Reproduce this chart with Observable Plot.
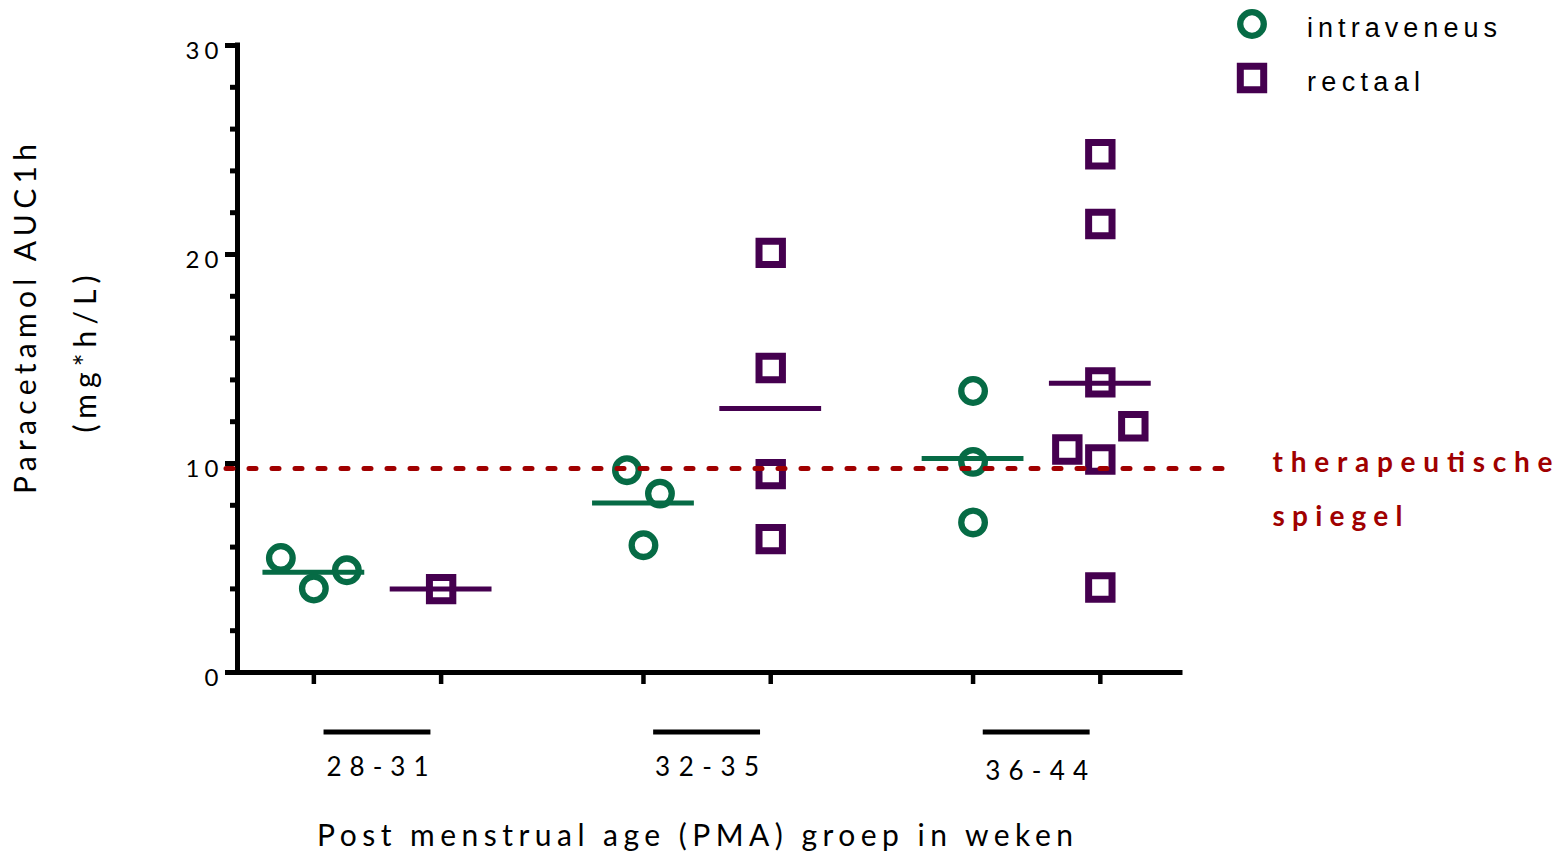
<!DOCTYPE html>
<html>
<head>
<meta charset="utf-8">
<script src="https://cdn.jsdelivr.net/npm/d3@7"></script>
<script src="https://cdn.jsdelivr.net/npm/@observablehq/plot@0.6"></script>
<style>
html, body { margin: 0; padding: 0; background: #fff; }
#wrap { position: relative; width: 1564px; height: 856px; overflow: hidden; }
</style>
</head>
<body>
<div id="wrap"></div>
<script>
// ---------- data ----------
const groups = ["28-31", "32-35", "36-44"];
const routes = ["intraveneus", "rectaal"];
const routeColors = ["#066b45", "#45004f"];
const routeSymbols = ["circle", "square"];

// Paracetamol AUC1h (mg*h/L) per PMA group
const iv_28_31 = [4.02, 5.48, 4.89];
const iv_32_35 = [8.56, 9.68, 6.09];
const iv_36_44 = [13.47, 10.08, 7.18];
const rect_28_31 = [3.99];
const rect_32_35 = [20.08, 14.57, 9.49, 6.38];
const rect_36_44 = [10.19, 10.67, 11.78, 13.88, 24.80, 21.46, 4.07];

const threshold = 9.76;
const thresholdLabel = ["therapeutische", "spiegel"];
const yTicksMajor = [0, 10, 20, 30];
const yTicksMinor = [2, 4, 6, 8, 12, 14, 16, 18, 22, 24, 26, 28];
const yLabel = ["Paracetamol AUC1h", "(mg*h/L)"];
const xLabel = "Post menstrual age (PMA) groep in weken";

// ---------- layout ----------
const W = 1564, H = 856;
const ML = 237, MR = 384, MT = 45, MB = 184;
const GROUP_STEP = 2.59, ROUTE_STEP = 1, HALF_MEAN = 0.4, HALF_BAR = 0.42;
const xDomain = [-0.6, (groups.length - 1) * GROUP_STEP + ROUTE_STEP + 0.63];
const yDomain = [0, 30];
const kx = (W - ML - MR) / (xDomain[1] - xDomain[0]);
const ky = (H - MT - MB) / (yDomain[1] - yDomain[0]);
const DODGE_PX = 33, COLLIDE_PX = 36;

const series = {
  intraveneus: [iv_28_31, iv_32_35, iv_36_44],
  rectaal: [rect_28_31, rect_32_35, rect_36_44]
};

// simple column-scatter dodge (like GraphPad)
function dodge(vals) {
  const hU = COLLIDE_PX / ky;
  const ks = [];
  vals.forEach((v, i) => {
    for (const k of [0, -1, 1, -2, 2, -3, 3]) {
      if (!vals.slice(0, i).some((u, j) => ks[j] === k && Math.abs(u - v) < hU)) { ks.push(k); break; }
    }
  });
  const order = d3.range(vals.length).sort((a, b) => vals[a] - vals[b]);
  const out = ks.slice();
  let cl = [order[0]];
  const flush = () => { const m = d3.mean(cl, i => ks[i]); cl.forEach(i => out[i] = ks[i] - m); };
  for (let t = 1; t < order.length; t++) {
    if (vals[order[t]] - vals[order[t - 1]] < hU) cl.push(order[t]);
    else { flush(); cl = [order[t]]; }
  }
  flush();
  return out;
}

const points = [], means = [], cols = [];
routes.forEach((route, ri) => groups.forEach((g, gi) => {
  const vals = series[route][gi];
  const base = gi * GROUP_STEP + ri * ROUTE_STEP;
  const offs = dodge(vals);
  vals.forEach((v, i) => points.push({route, group: g, value: v, x: base + offs[i] * DODGE_PX / kx}));
  means.push({route, group: g, x: base, value: d3.mean(vals)});
  cols.push(base);
}));
const groupCenters = groups.map((g, gi) => ({label: g, x: gi * GROUP_STEP + ROUTE_STEP / 2}));

const dotMarks = [], meanMarks = [];
routes.forEach((route, ri) => {
  const sq = routeSymbols[ri] === "square";
  dotMarks.push(Plot.dot(points.filter(d => d.route === route), {
    x: "x", y: "value", symbol: routeSymbols[ri], stroke: routeColors[ri], fill: "none",
    r: sq ? 13.2 : 11.8, strokeWidth: sq ? 7 : 6.3
  }));
  meanMarks.push(Plot.ruleY(means.filter(d => d.route === route), {
    y: "value", x1: d => d.x - HALF_MEAN, x2: d => d.x + HALF_MEAN,
    stroke: routeColors[ri], strokeWidth: 5
  }));
});

const chart = Plot.plot({
  width: W, height: H,
  marginLeft: ML, marginRight: MR, marginTop: MT, marginBottom: MB,
  x: {domain: xDomain, label: null},
  y: {domain: yDomain, label: null},
  style: {fontFamily: "Lato", fontSize: "24px", color: "#000", background: "#fff", overflow: "visible"},
  marks: [
    Plot.axisY(yTicksMinor, {tickSize: 7, strokeWidth: 5, tickFormat: () => "", label: null}),
    Plot.axisY(yTicksMajor, {tickSize: 12, strokeWidth: 5, tickFormat: () => "", label: null}),
    Plot.axisY(yTicksMajor, {tickSize: 0, tickPadding: 19, dy: 6, fontSize: 24, label: null}),
    Plot.ruleX([xDomain[0]], {y1: yDomain[0], y2: yDomain[1], strokeWidth: 5, strokeLinecap: "square"}),
    Plot.ruleY([0], {x1: xDomain[0], x2: xDomain[1], strokeWidth: 5, strokeLinecap: "square"}),
    Plot.axisX(cols, {tickSize: 12, strokeWidth: 4.5, tickFormat: () => "", label: null}),
    ...dotMarks,
    ...meanMarks,
    Plot.ruleY([threshold], {
      x1: xDomain[0] - 11 / kx, x2: xDomain[1] + 50 / kx,
      stroke: "#a00000", strokeWidth: 5, strokeDasharray: "7,16", strokeLinecap: "round"
    }),
    Plot.ruleY(groupCenters, {y: 0, x1: d => d.x - HALF_BAR, x2: d => d.x + HALF_BAR, dy: 59.5, strokeWidth: 5}),
    Plot.text(groupCenters.slice(0, 2), {x: "x", y: 0, text: "label", dy: 95, fontSize: 26}),
    Plot.text(groupCenters.slice(2), {x: "x", y: 0, text: "label", dy: 99, fontSize: 26}),
    Plot.text([xLabel], {frameAnchor: "bottom", textAnchor: "middle", lineAnchor: "middle", dx: -14, dy: 164, fontSize: 30}),
    Plot.text([yLabel[0]], {frameAnchor: "left", textAnchor: "middle", lineAnchor: "middle", rotate: -90, dx: -211, dy: -40, fontSize: 30}),
    Plot.text([yLabel[1]], {frameAnchor: "left", textAnchor: "middle", lineAnchor: "middle", rotate: -90, dx: -151, dy: -5, fontSize: 30}),
    Plot.text([thresholdLabel[0]], {y: threshold, frameAnchor: "right", textAnchor: "start", lineAnchor: "middle", dx: 92, dy: -5, fontSize: 28, fontWeight: "bold", fill: "#a00000"}),
    Plot.text([thresholdLabel[1]], {y: threshold, frameAnchor: "right", textAnchor: "start", lineAnchor: "middle", dx: 92, dy: 49, fontSize: 28, fontWeight: "bold", fill: "#a00000"})
  ]
});
document.getElementById("wrap").appendChild(chart);

// stretch letter spacing like the original
const fits = new Map([
  [yLabel[0], 350], [yLabel[1], 157], [xLabel, 756],
  [thresholdLabel[0], 280], [thresholdLabel[1], 130],
  ["28-31", 102], ["32-35", 104], ["36-44", 103],
  ["10", 33], ["20", 33], ["30", 33]
]);
d3.select(chart).selectAll("text").each(function () {
  const w = fits.get(this.textContent);
  if (w) { this.setAttribute("textLength", w); this.setAttribute("lengthAdjust", "spacing"); }
});

// legend
const leg = d3.select("#wrap").append("svg")
  .attr("width", 344).attr("height", 110)
  .style("position", "absolute").style("left", "1220px").style("top", "0px");
routes.forEach((r, i) => {
  const g = leg.append("g").attr("transform", `translate(32,${24 + 54 * i})`);
  if (routeSymbols[i] === "circle") {
    g.append("circle").attr("r", 11.8).attr("fill", "none").attr("stroke", routeColors[i]).attr("stroke-width", 6.3);
  } else {
    g.append("path").attr("d", d3.symbol(d3.symbolSquare, Math.PI * 13.2 * 13.2)())
      .attr("fill", "none").attr("stroke", routeColors[i]).attr("stroke-width", 7);
  }
  leg.append("text").attr("x", 87).attr("y", 36.5 + 54 * i)
    .attr("font-family", "'Liberation Sans', Arial, sans-serif").attr("font-size", 27).attr("fill", "#000")
    .attr("textLength", i === 0 ? 190 : 113).attr("lengthAdjust", "spacing")
    .text(r);
});
</script>
</body>
</html>
